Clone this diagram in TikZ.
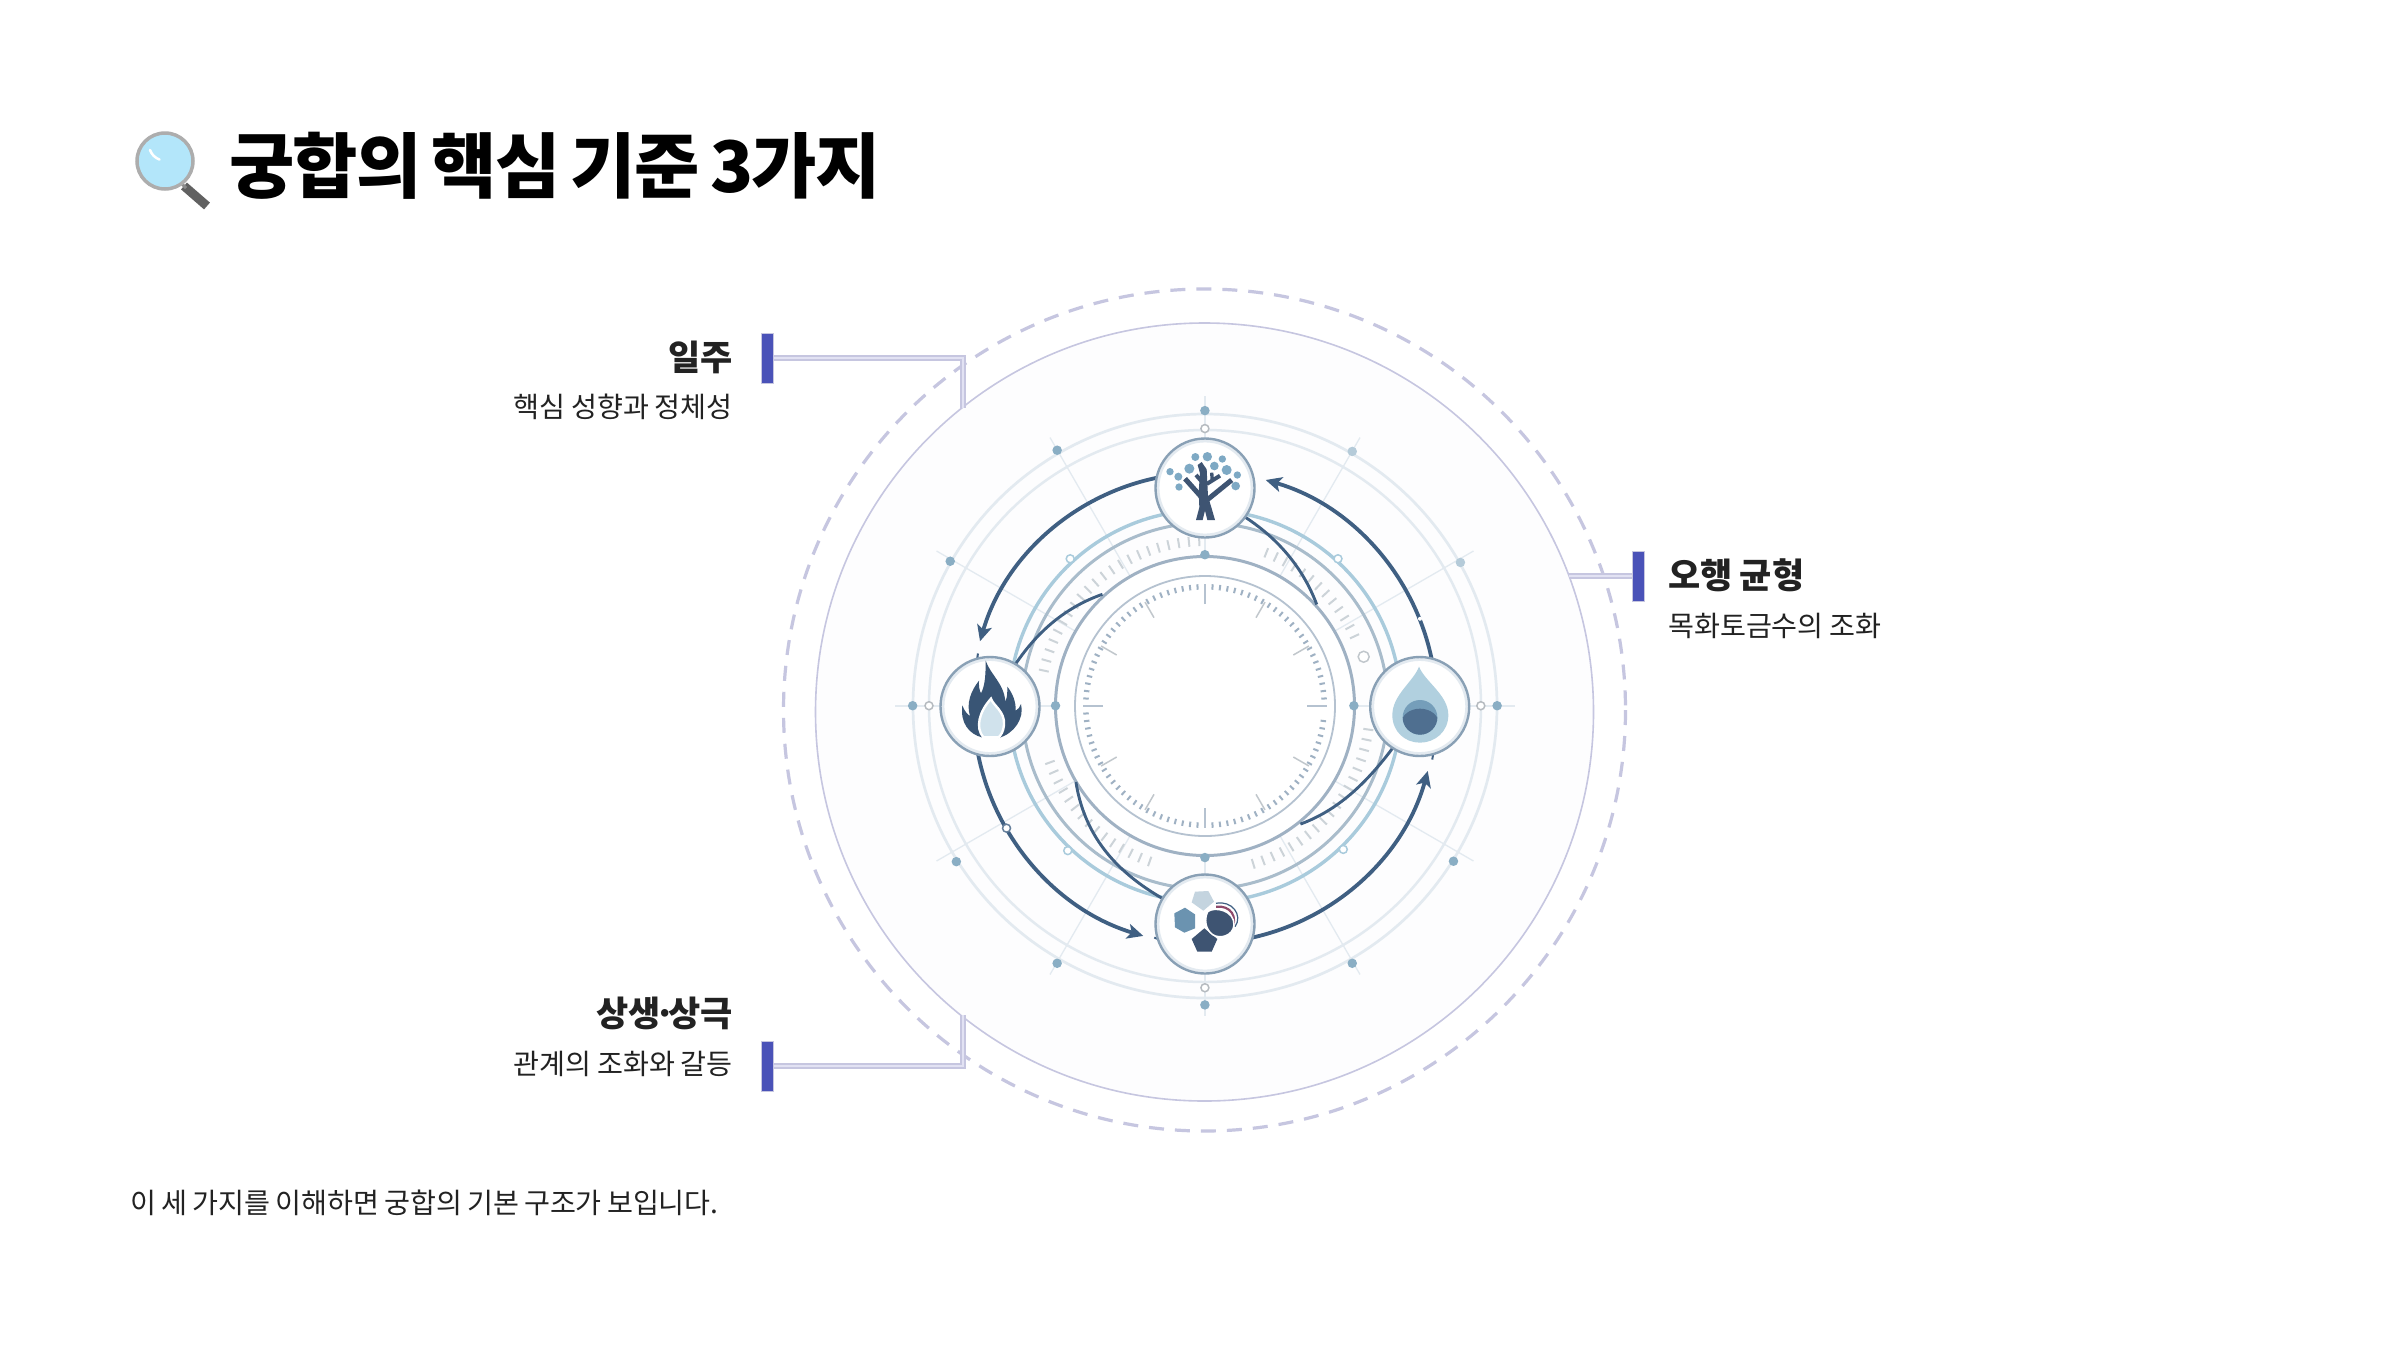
\documentclass[tikz,border=0pt]{standalone}
\usepackage{fontspec}
\newfontfamily\kr{Noto Sans CJK KR}
\newfontfamily\krt{Noto Sans CJK KR}[LetterSpace=-2.6,WordSpace=0.72]
\newfontfamily\krf{Noto Sans CJK KR}[WordSpace=0.9]
\usetikzlibrary{arrows.meta}
\definecolor{arrowc}{HTML}{3F5F82}
\definecolor{inkc}{HTML}{3E5472}
\definecolor{ringa}{HTML}{E3EAF0}
\definecolor{ringb}{HTML}{A9CBDC}
\definecolor{ringc}{HTML}{A9BCCB}
\definecolor{ringd}{HTML}{9FB1C3}
\definecolor{ringe}{HTML}{B5C2D0}
\definecolor{dotc}{HTML}{8AAEC4}
\definecolor{dotl}{HTML}{B5CBD9}
\definecolor{lav}{HTML}{C6C6E0}
\definecolor{lavl}{HTML}{E2E2F3}
\definecolor{barc}{HTML}{4A52B8}
\definecolor{leaf}{HTML}{7EA9C4}
\definecolor{textc}{HTML}{222222}
\definecolor{discc}{HTML}{FDFDFE}
\tikzset{
  elem/.style={circle,minimum size=98pt,inner sep=0pt,fill=white,draw=none},
  dotf/.style={circle,inner sep=0pt,minimum size=9.5pt,fill=dotc},
  dotp/.style={circle,inner sep=0pt,minimum size=9.5pt,fill=dotl},
  doth/.style={circle,inner sep=0pt,minimum size=8pt,fill=white,draw=#1,line width=1.5pt},
  doth/.default=ringb,
  cycle arrow/.style={draw=arrowc,line width=3.8pt,-{Stealth[length=16pt,width=15pt,inset=4pt]},bend right=31,looseness=.92},
  inner link/.style={draw=arrowc,line width=2.9pt},
  callout/.style={draw=lav,line width=1.5pt,double=lavl,double distance=2.5pt,line join=miter},
  bar/.style={fill=barc,draw=lav,line width=1pt},
  head/.style={font=\kr\bfseries\fontsize{35}{40}\selectfont,text=textc,inner sep=0pt},
  sub/.style={font=\kr\fontsize{28.2}{32}\selectfont,text=textc,inner sep=0pt},
  foot/.style={font=\krf\fontsize{28.2}{32}\selectfont,text=textc,inner sep=0pt},
  zoomone/.style={x=0.40816pt,y=-0.40816pt,xshift=880pt,yshift=-380pt},
}
\begin{document}
\begin{tikzpicture}[x=1pt,y=-1pt]
\useasboundingbox (0,0) rectangle (2400,1350);
\fill[white] (0,0) rectangle (2400,1350);
% outer circles
\draw[draw=lav,line width=3.2pt,dash pattern=on 15pt off 11pt] (1204.5,710) circle (421);
\fill[fill=discc] (1204.5,712) circle (389);
\draw[draw=lav,line width=1.6pt] (1204.5,712) circle (389);
% rings etc.
\begin{scope}[shift={(1205,706)}]
  \foreach \a in {0,30,...,330}
    \draw[ringa,line width=1.3pt] ({-\a}:150) -- ({-\a}:310);
  \draw[ringa,line width=2.7pt] (0,0) circle (292);
  \draw[ringa,line width=2.5pt] (0,0) circle (276);
  \draw[ringb,line width=3.4pt] (0,0) circle (196);
  \draw[ringc,line width=3pt] (0,0) circle (183);
  \fill[white] (0,0) circle (149);
  \draw[ringd,line width=3pt] (0,0) circle (149.5);
  \draw[ringe,line width=1.8pt] (0,0) circle (130);
  % band ticks
  \foreach \a in {92,95.6,...,170,25,28.6,...,70,200,203.6,...,251,287,290.6,...,352}
    \draw[ringa!90!black,line width=2pt] ({-\a}:160) -- ({-\a}:170);
  % inner ticks
  \foreach \a in {0,3.6,...,356.4}
    \draw[ringd,line width=2pt] ({-\a}:116.5) -- ({-\a}:122);
  \foreach \a in {0,90,180,270}
    \draw[ringe,line width=1.6pt] ({-\a}:102) -- ({-\a}:122);
  \foreach \a in {30,60,120,150,210,240,300,330}
    \draw[ringa!85!black,line width=1.5pt] ({-\a}:102) -- ({-\a}:120);
\end{scope}
\begin{scope}[zoomone]
  \foreach \x/\y/\n in {796/75/a,434/172/b,187/1180/c,80/798/d,172/444/e,1512/798/f,1405/1179/g,1157/1429/h,796/1531/i,434/1429/j,796/428/k,1161/798/l,796/1170/m,430/798/n}
    \node[dotf] (d\n) at (\x,\y) {};
  \foreach \x/\y/\n in {1157/175/p,1422/447/q}
    \node[dotp] (d\n) at (\x,\y) {};
  \foreach \x/\y/\n in {796/119/r,1472/798/s,120/798/t,796/1489/u}
    \node[doth=ringa!80!black] (d\n) at (\x,\y) {};
  \foreach \x/\y/\n in {466/438/v,1122/438/w,460/1153/y,1135/1150/z}
    \node[doth] (d\n) at (\x,\y) {};
  \node[doth=ringa!85!black,minimum size=11pt] (dhollow) at (1185,678) {};
  \coordinate (endfire) at (245,640);
  \coordinate (endcombo) at (645,1362);
  \coordinate (endwater) at (1342,958);
  \coordinate (endtree) at (945,245);
  \coordinate (ia) at (1070,550);
  \coordinate (ib) at (545,525);
  \coordinate (ic) at (480,985);
  \coordinate (id) at (1030,1088);
\end{scope}
% element nodes
\node[elem] (tree) at (1205,488) {};
\node[elem] (fire) at (990,706.5) {};
\node[elem] (water) at (1419.7,706.5) {};
\node[elem] (combo) at (1205,924) {};
% links
\begin{scope}[zoomone]
  \draw[inner link] (tree.-36) .. controls (985,395) and (1040,470) .. (ia);
  \draw[inner link] (fire.59) .. controls (390,610) and (460,555) .. (ib);
  \draw[inner link] (combo.149) .. controls (570,1200) and (500,1110) .. (ic);
  \draw[inner link] (water.237) .. controls (1190,990) and (1120,1055) .. (id);
\end{scope}
\draw[cycle arrow] (tree.168) to (endfire);
\draw[cycle arrow] (fire.256) to (endcombo);
\draw[cycle arrow] (combo.-16) to (endwater);
\draw[cycle arrow] (water.76) to (endtree);
\begin{scope}[zoomone]
  \node[doth=arrowc!80!white,minimum size=8pt] (dm) at (310,1098) {};
  \node[circle,fill=white,inner sep=0pt,minimum size=4pt] (dn2) at (1323,585) {};
  \draw[arrowc,line width=2pt] (240,670) -- (238,684);
  \draw[arrowc,line width=2pt] (672,1366) -- (682,1370);
  \draw[arrowc,line width=2pt] (1355,918) -- (1353,930);
\end{scope}
% redraw element circles
\foreach \n in {tree,fire,water,combo}{
  \fill[white] (\n.center) circle (49);
  \draw[ringa,line width=2.8pt] (\n.center) circle (47);
  \draw[draw=ringc!70!arrowc,line width=2.4pt] (\n.center) circle (49.5);
}
% tree icon
\begin{scope}[x=.33333pt,y=-.33333pt,xshift=1120pt,yshift=-420pt]
  \foreach \x/\y/\r in {226/111/12,262/110/14,307/117/11,208/146/15,283/138/13,320/150/15,150/155/11,175/170/12,352/165/11,177/201/11,347/198/13}
    \fill[leaf] (\x,\y) circle (\r);
  \fill[inkc] (228,300) -- (238,262) -- (236,215) -- (240,160) -- (233,135) -- (245,126) -- (260,148) -- (264,230) -- (274,262) -- (285,300) -- (262,300) -- (255,272) -- (248,300) -- cycle;
  \draw[inkc,line width=5pt] (252,240) -- (195,176);
  \draw[inkc,line width=5pt] (255,245) -- (335,180);
  \draw[inkc,line width=4pt] (250,190) -- (228,165);
  \draw[inkc,line width=4pt] (260,192) -- (300,167);
  \draw[inkc,line width=3.4pt] (277,182) -- (275,158);
\end{scope}
% flame icon
\begin{scope}[x=.33333pt,y=-.33333pt,xshift=920pt,yshift=-640pt]
  \fill[arrowc!90!black] (197,62) .. controls (212,105) and (252,130) .. (256,185)
    .. controls (262,170) and (262,160) .. (262,140)
    .. controls (278,160) and (288,185) .. (287,212)
    .. controls (294,208) and (300,202) .. (303,192)
    .. controls (314,235) and (282,282) .. (235,294) -- (185,292)
    .. controls (148,282) and (120,250) .. (127,196)
    .. controls (133,213) and (143,224) .. (150,228)
    .. controls (138,190) and (153,152) .. (177,122)
    .. controls (176,140) and (178,150) .. (183,160)
    .. controls (196,135) and (197,100) .. (197,62) -- cycle;
  \fill[fill=ringb!55!white,draw=white,line width=2.4pt] (213,176) .. controls (218,195) and (256,215) .. (252,255) .. controls (250,275) and (243,285) .. (236,292) -- (190,292) .. controls (165,262) and (178,215) .. (213,176) -- cycle;
\end{scope}
% water icon
\begin{scope}[x=.33333pt,y=-.33333pt,xshift=1350pt,yshift=-640pt]
  \fill[ringb!90!white] (207,80) .. controls (225,125) and (295,165) .. (295,225)
    .. controls (295,275) and (255,308) .. (210,308)
    .. controls (165,308) and (127,275) .. (127,225)
    .. controls (127,165) and (190,125) .. (207,80) -- cycle;
  \fill[leaf!85!arrowc] (210,232) circle (52);
  \begin{scope}
    \clip (210,232) circle (52);
    \fill[arrowc!85!ringb] (210,250) ellipse (56 and 44);
  \end{scope}
\end{scope}
% combo icon
\begin{scope}[x=.33333pt,y=-.33333pt,xshift=1140pt,yshift=-870pt]
  \fill[ringb!35!ringe!75!white] (165,65) -- (205,63) -- (222,95) -- (190,122) -- (155,97) -- cycle;
  \fill[leaf!70!arrowc] (135,113) -- (165,133) -- (165,175) -- (133,188) -- (105,172) -- (103,130) -- cycle;
  \fill[inkc] (193,175) -- (232,207) -- (215,245) -- (172,245) -- (155,207) -- cycle;
  \draw[arrowc,line width=1.2pt] (228,100) .. controls (275,90) and (310,135) .. (285,170);
  \draw[draw=black!30!ringd!60!purple,line width=2.2pt] (228,110) .. controls (270,105) and (298,140) .. (272,182);
  \fill[fill=inkc,draw=white,line width=1.5pt] (203,125) .. controls (225,108) and (284,122) .. (282,165) .. controls (279,198) and (240,208) .. (218,194) .. controls (196,178) and (192,148) .. (203,125) -- cycle;
\end{scope}
% magnifier (drawn emoji)
\begin{scope}
  \draw[black!62,line width=9pt] (184,186) -- (207,206);
  \draw[black!45,line width=3pt] (176,178) -- (186,188);
  \fill[fill=cyan!30!white,draw=black!32,line width=3.5pt] (165,161) circle (28);
  \draw[white,line width=2.5pt,line cap=round] (150,150) arc (160:110:16);
\end{scope}
% title
\node[font=\krt\bfseries\fontsize{71}{80}\selectfont,text=black,anchor=west,inner sep=0pt] (title) at (229,166) {궁합의 핵심 기준 3가지};
% callouts
\coordinate (ca) at (963,408);
\coordinate (cb) at (963,1015);
\coordinate (cc) at (1569,576);
\node[bar,minimum width=12pt,minimum height=50pt,inner sep=0pt] (bara) at (767,358) {};
\node[bar,minimum width=12pt,minimum height=50pt,inner sep=0pt] (barb) at (767,1066) {};
\node[bar,minimum width=12pt,minimum height=50pt,inner sep=0pt] (barc) at (1638.5,576) {};
\draw[callout] (bara.east) -| (ca);
\draw[callout] (barb.east) -| (cb);
\draw[callout] (barc.west) -- (cc);
\node[head,anchor=east] (la) at (733,357) {일주};
\node[sub,anchor=east] (lb) at (733,407) {핵심 성향과 정체성};
\node[head,anchor=east] (lc) at (733,1013) {상생\kern-7pt·\kern-7pt상극};
\node[sub,anchor=east] (ld) at (733,1064) {관계의 조화와 갈등};
\node[head,anchor=west] (le) at (1668,575) {오행 균형};
\node[sub,anchor=west] (lf) at (1668,626) {목화토금수의 조화};
\node[foot,anchor=west] (footer) at (130,1203) {이 세 가지를 이해하면 궁합의 기본 구조가 보입니다.};
\end{tikzpicture}
\end{document}
